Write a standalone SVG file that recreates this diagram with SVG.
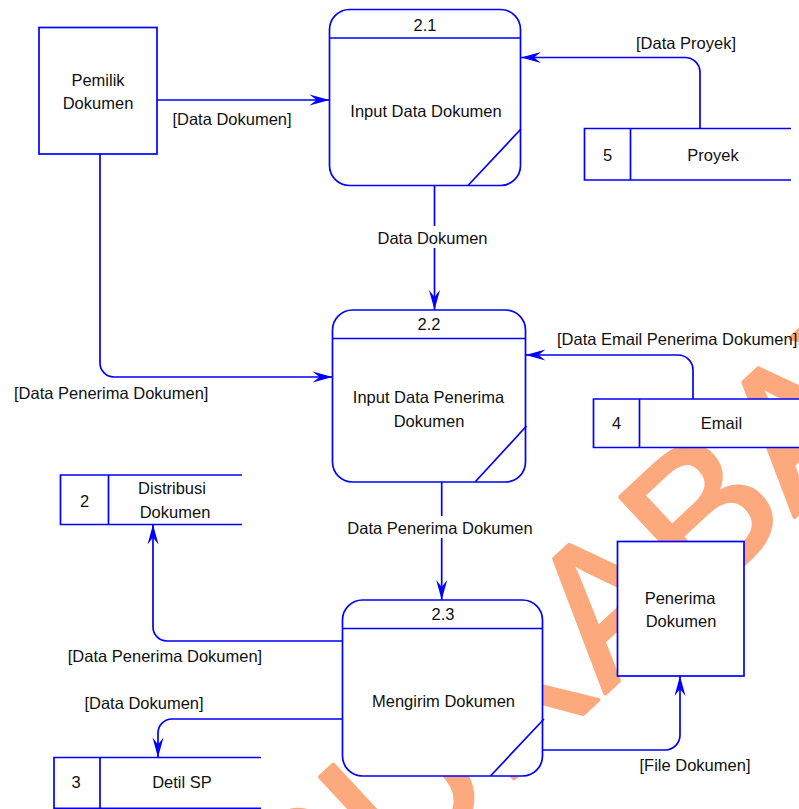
<svg xmlns="http://www.w3.org/2000/svg" width="799" height="809" viewBox="0 0 799 809">
  <style>
    .ln { fill: none; stroke: #0000FF; stroke-width: 1.7; }
    .box { fill: #FFFFFF; stroke: #0000FF; stroke-width: 1.7; }
    .t { font-family: "Liberation Sans", Arial, sans-serif; font-size: 16.5px; fill: #111111; text-anchor: middle; }
    .tl { font-family: "Liberation Sans", Arial, sans-serif; font-size: 16.5px; fill: #111111; text-anchor: start; }
    .wm { font-family: "Liberation Sans", Arial, sans-serif; font-size: 194px; fill: #FCA97E; stroke: #FCA97E; stroke-width: 4; stroke-linejoin: round; }
  </style>
  <defs>
    <marker id="arr" markerUnits="userSpaceOnUse" markerWidth="24" markerHeight="14" refX="0" refY="0" viewBox="-21 -7 22 14" orient="auto">
      <path d="M0,0 L-20,-5.5 L-13,0 L-20,5.5 Z" fill="#0000FF"/>
    </marker>
  </defs>

  <!-- background watermark -->
  <g id="watermark">
    <text class="wm" transform="translate(-278,1517) rotate(-43)">STIKOM SURABAYA</text>
  </g>

  <!-- data flows -->
  <g id="connectors">
    <path class="ln" d="M157,100 H329.5" marker-end="url(#arr)"/>
    <path class="ln" d="M700,128.5 V72 A15,15 0 0 0 685,57.5 H521" marker-end="url(#arr)"/>
    <path class="ln" d="M434.5,186 V310" marker-end="url(#arr)"/>
    <path class="ln" d="M100,154 V363 A14,14 0 0 0 114,377 H332.5" marker-end="url(#arr)"/>
    <path class="ln" d="M693,399 V370 A15,15 0 0 0 678,355 H525.5" marker-end="url(#arr)"/>
    <path class="ln" d="M441.7,482 V600" marker-end="url(#arr)"/>
    <path class="ln" d="M342.5,641 H167 A14,14 0 0 1 153,627 V524.5" marker-end="url(#arr)"/>
    <path class="ln" d="M342.5,719 H172 A14,14 0 0 0 158,733 V757.5" marker-end="url(#arr)"/>
    <path class="ln" d="M542.5,750 H665 A15,15 0 0 0 680,735 V676" marker-end="url(#arr)"/>

    <text class="t" x="232" y="125">[Data Dokumen]</text>
    <text class="t" x="686" y="48.5">[Data Proyek]</text>
    <rect x="375" y="226" width="115" height="22" fill="#FFFFFF"/>
    <text class="t" x="432.5" y="243.5">Data Dokumen</text>
    <text class="tl" x="14" y="398.5">[Data Penerima Dokumen]</text>
    <text class="tl" x="557" y="345">[Data Email Penerima Dokumen]</text>
    <rect x="344" y="516" width="193" height="22" fill="#FFFFFF"/>
    <text class="t" x="440" y="533.5">Data Penerima Dokumen</text>
    <text class="t" x="165" y="662">[Data Penerima Dokumen]</text>
    <text class="t" x="144" y="709">[Data Dokumen]</text>
    <text class="t" x="695" y="771">[File Dokumen]</text>
  </g>

  <g id="pemilik-dokumen">
    <rect class="box" x="39" y="27.5" width="118" height="126.5"/>
    <text class="t" x="98" y="86">Pemilik</text>
    <text class="t" x="98" y="109">Dokumen</text>
  </g>

  <g id="penerima-dokumen">
    <rect class="box" x="617.5" y="541.5" width="126.5" height="134.5"/>
    <text class="t" x="680" y="603.5">Penerima</text>
    <text class="t" x="681" y="627">Dokumen</text>
  </g>

  <g id="proses-2-1">
    <rect class="box" x="329.5" y="9.5" width="191" height="176" rx="20"/>
    <path class="ln" d="M329.5,38 H520.5 M521,129 L468,185.5"/>
    <text class="t" x="425" y="31">2.1</text>
    <text class="t" x="426" y="117">Input Data Dokumen</text>
  </g>

  <g id="proses-2-2">
    <rect class="box" x="332.5" y="310" width="193" height="172" rx="20"/>
    <path class="ln" d="M332.5,338.5 H525.5 M526.5,426 L475.5,481.5"/>
    <text class="t" x="429" y="330">2.2</text>
    <text class="t" x="428.5" y="403">Input Data Penerima</text>
    <text class="t" x="429" y="426.5">Dokumen</text>
  </g>

  <g id="proses-2-3">
    <rect class="box" x="342.5" y="600" width="200" height="176" rx="20"/>
    <path class="ln" d="M342.5,628.5 H542.5 M544,719 L490.5,776"/>
    <text class="t" x="443" y="620">2.3</text>
    <text class="t" x="443.5" y="706.5">Mengirim Dokumen</text>
  </g>

  <g id="store-5-proyek">
    <rect x="584.5" y="128.5" width="207" height="51.5" fill="#FFFFFF"/>
    <path class="ln" d="M791,128.5 H584.5 V180 H791 M630.5,128.5 V180"/>
    <text class="t" x="607.5" y="161">5</text>
    <text class="t" x="713" y="161">Proyek</text>
  </g>

  <g id="store-4-email">
    <rect x="593.5" y="399" width="210" height="48.5" fill="#FFFFFF"/>
    <path class="ln" d="M805,399 H593.5 V447.5 H805 M639.5,399 V447.5"/>
    <text class="t" x="616.5" y="429">4</text>
    <text class="t" x="721.5" y="429">Email</text>
  </g>

  <g id="store-2-distribusi">
    <rect x="60.5" y="475" width="182" height="49.5" fill="#FFFFFF"/>
    <path class="ln" d="M242,475 H60.5 V524.5 H242 M108.5,475 V524.5"/>
    <text class="t" x="84.5" y="506.5">2</text>
    <text class="t" x="172" y="494">Distribusi</text>
    <text class="t" x="175" y="517.5">Dokumen</text>
  </g>

  <g id="store-3-detil-sp">
    <rect x="54" y="757.5" width="207" height="51" fill="#FFFFFF"/>
    <path class="ln" d="M261,757.5 H54 V808.3 H261 M100,757.5 V808.3"/>
    <text class="t" x="76" y="788">3</text>
    <text class="t" x="182" y="788">Detil SP</text>
  </g>
</svg>
